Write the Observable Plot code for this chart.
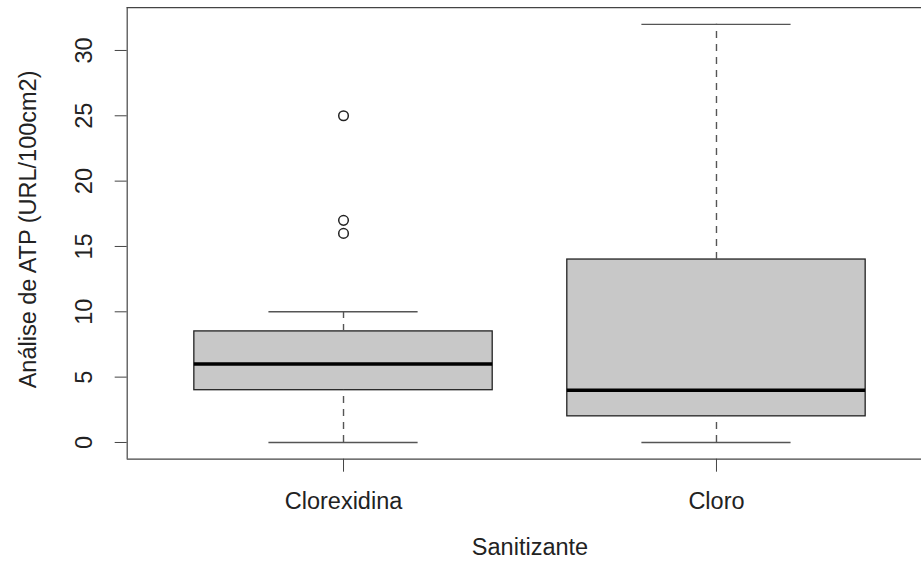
<!DOCTYPE html>
<html>
<head>
<meta charset="utf-8">
<script src="https://cdn.jsdelivr.net/npm/d3@7"></script>
<script src="https://cdn.jsdelivr.net/npm/@observablehq/plot@0.6"></script>
<style>
  html, body { margin: 0; padding: 0; background: #fff; }
  #chart svg { display: block; }
</style>
</head>
<body>
<div id="chart"></div>
<script>
// ---- data ----
const groups      = ["Clorexidina", "Cloro"];
const groupPos    = [1, 2];
const whiskerLow  = [0, 0];
const q1          = [4, 2];
const median      = [6, 4];
const q3          = [8.5, 14];
const whiskerHigh = [10, 32];
const outlierGroup = ["Clorexidina", "Clorexidina", "Clorexidina"];
const outlierValue = [16, 17, 25];
const yTicks = [0, 5, 10, 15, 20, 25, 30];
const yTitle = "Análise de ATP (URL/100cm2)";
const xTitle = "Sanitizante";

// ---- tables built from the arrays ----
const boxes = groups.map((g, i) => ({
  g, pos: groupPos[i], lo: whiskerLow[i], q1: q1[i], med: median[i], q3: q3[i], hi: whiskerHigh[i]
}));
const outliers = outlierValue.map((v, i) => ({
  pos: groupPos[groups.indexOf(outlierGroup[i])], v
}));

const W = 921, H = 568;
const xDom = [0.42, 2.58];
const yDom = [-1.28, 33.28];
const xRange = [126.7, 932.3];
const yRange = [458.7, 7.1];
const font = "Liberation Sans, Arial, Helvetica, sans-serif";
const fs = 23.5;
const ink = "#222";

const chart = Plot.plot({
  width: W,
  height: H,
  marginLeft: xRange[0],
  marginRight: 0,
  marginTop: yRange[1],
  marginBottom: H - yRange[0],
  style: { fontFamily: font, fontSize: fs + "px", color: ink, background: "#fff", overflow: "visible" },
  x: { type: "linear", domain: xDom, range: xRange, axis: null },
  y: { type: "linear", domain: yDom, range: yRange, axis: null },
  marks: [
    // boxes
    Plot.rect(boxes, {
      x1: d => d.pos - 0.4, x2: d => d.pos + 0.4, y1: "q1", y2: "q3",
      fill: "#c8c8c8", stroke: "#222", strokeWidth: 1.3
    }),
    // dashed whiskers
    Plot.ruleX(boxes, { x: "pos", y1: "q3", y2: "hi", stroke: "#555", strokeWidth: 1.4, strokeDasharray: "7,6" }),
    Plot.ruleX(boxes, { x: "pos", y1: "lo", y2: "q1", stroke: "#555", strokeWidth: 1.4, strokeDasharray: "7,6" }),
    // whisker caps
    Plot.ruleY(boxes, { y: "hi", x1: d => d.pos - 0.2, x2: d => d.pos + 0.2, stroke: "#555", strokeWidth: 1.4 }),
    Plot.ruleY(boxes, { y: "lo", x1: d => d.pos - 0.2, x2: d => d.pos + 0.2, stroke: "#555", strokeWidth: 1.4 }),
    // medians
    Plot.ruleY(boxes, { y: "med", x1: d => d.pos - 0.4, x2: d => d.pos + 0.4, stroke: "#000", strokeWidth: 3.5 }),
    // outliers
    Plot.dot(outliers, { x: "pos", y: "v", r: 4.8, stroke: "#222", strokeWidth: 1.5, fill: "none" }),
    // frame (bottom, top, left)
    Plot.ruleY([yDom[0], yDom[1]], { x1: xDom[0], x2: xDom[1], stroke: "#444", strokeWidth: 1.2 }),
    Plot.ruleX([xDom[0]], { y1: yDom[0], y2: yDom[1], stroke: "#444", strokeWidth: 1.2 }),
    // y axis: ticks + rotated labels + title
    Plot.axisY(yTicks, { anchor: "left", tickSize: 12, tickFormat: () => "", stroke: "#444", label: null }),
    Plot.text(yTicks, {
      x: xDom[0], y: d => d, text: d => String(d), dx: -43, rotate: -90,
      textAnchor: "middle", lineAnchor: "middle", fill: ink, fontSize: fs
    }),
    Plot.text([yTitle], {
      x: xDom[0], y: (yDom[0] + yDom[1]) / 2, text: d => d, dx: -99, dy: -4, rotate: -90,
      textAnchor: "middle", lineAnchor: "middle", fill: ink, fontSize: fs
    }),
    // x axis: ticks + labels + title
    Plot.axisX(groupPos, { anchor: "bottom", tickSize: 13, tickFormat: () => "", stroke: "#444", label: null }),
    Plot.text(groups, {
      x: (d, i) => groupPos[i], y: yDom[0], text: d => d, dy: 50,
      textAnchor: "middle", lineAnchor: "bottom", fill: ink, fontSize: fs
    }),
    Plot.text([xTitle], {
      x: (groupPos[0] + groupPos[1]) / 2, y: yDom[0], text: d => d, dy: 96,
      textAnchor: "middle", lineAnchor: "bottom", fill: ink, fontSize: fs
    })
  ]
});

document.getElementById("chart").appendChild(chart);
</script>
</body>
</html>
